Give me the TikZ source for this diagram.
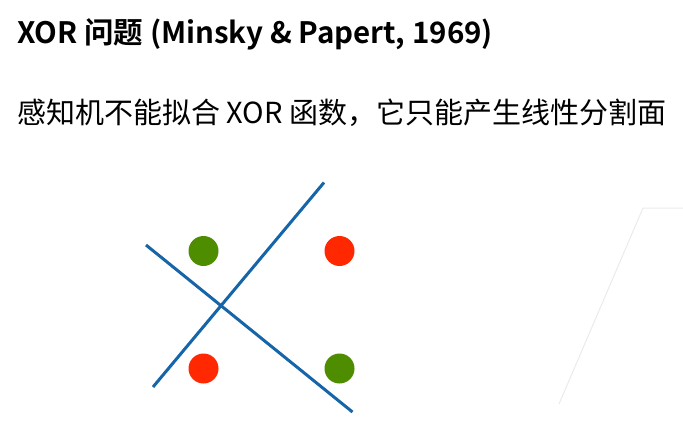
\documentclass[tikz,border=0pt]{standalone}
\usepackage{fontspec}
\setmainfont{Noto Sans CJK SC}
\newfontfamily\cjkbold{Noto Sans CJK SC Bold}
\definecolor{sepblue}{HTML}{1565A8}
\definecolor{dotgreen}{HTML}{4E8C00}
\definecolor{dotred}{HTML}{FF2800}
\definecolor{faint}{HTML}{EBEBEB}
\begin{document}
\begin{tikzpicture}[x=1pt,y=-1pt,
  dotstyle/.style={circle,inner sep=0pt,minimum size=30pt},
  sepline/.style={draw=sepblue,line width=3pt},
  txt/.style={anchor=base west,inner sep=0pt}]
\useasboundingbox (0,0) rectangle (683,439);
% faint background shape
\coordinate (f1) at (683,208);
\coordinate (f2) at (643,208);
\coordinate (f3) at (559,404);
\draw[faint,line width=1pt] (f1) -- (f2) -- (f3);
% texts
\node[txt,font=\cjkbold\fontsize{29.5}{34}\selectfont] (title) at (17,43) {XOR 问题 (Minsky \& Papert, 1969)};
\node[txt,font=\fontsize{29}{34}\selectfont] (sub) at (17,123) {感知机不能拟合 XOR 函数，它只能产生线性分割面};
% lines
\coordinate (a1) at (146,245);
\coordinate (a2) at (352.5,412);
\coordinate (b1) at (153,387);
\coordinate (b2) at (324,182.5);
\draw[sepline] (a1) -- (a2);
\draw[sepline] (b1) -- (b2);
% dots
\node[dotstyle,fill=dotgreen] (g1) at (203.5,251) {};
\node[dotstyle,fill=dotred] (r1) at (339.5,251) {};
\node[dotstyle,fill=dotred] (r2) at (203.5,368.5) {};
\node[dotstyle,fill=dotgreen] (g2) at (339.5,368.5) {};
\end{tikzpicture}
\end{document}
